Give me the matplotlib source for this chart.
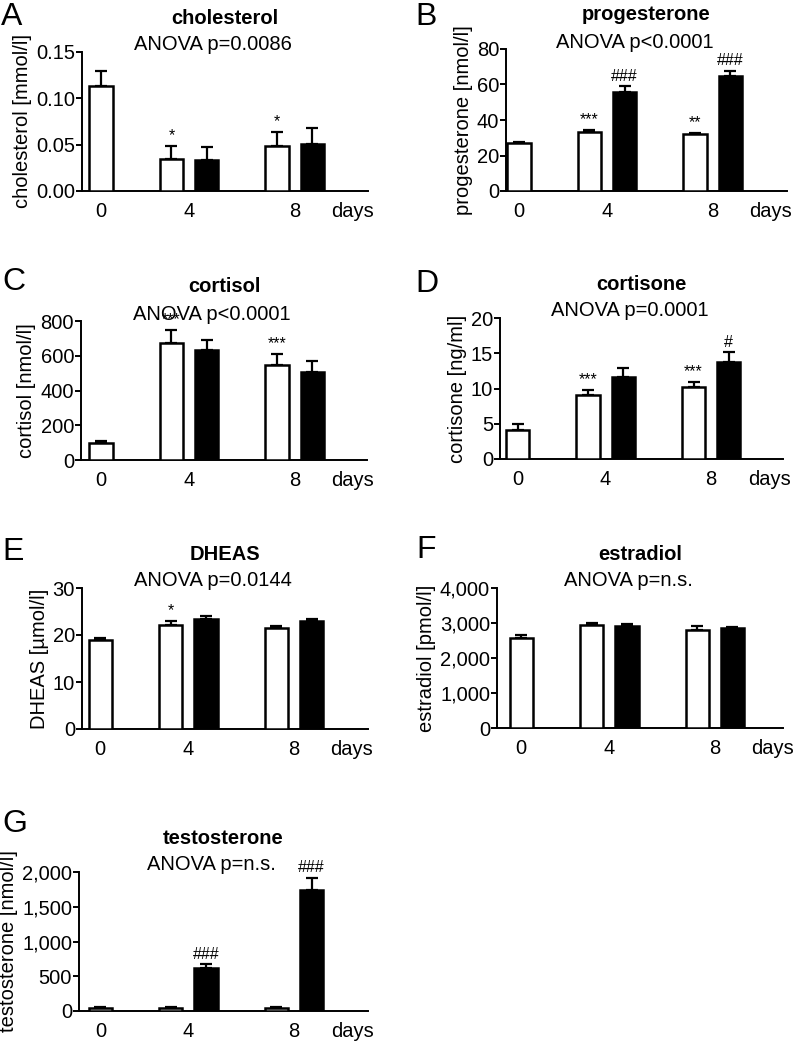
import numpy as np
import matplotlib.pyplot as plt
from matplotlib.ticker import StrMethodFormatter

plt.rcParams['font.family'] = ['Liberation Sans', 'DejaVu Sans']

W, H = 793, 1041

letters = ['A', 'B', 'C', 'D', 'E', 'F', 'G']
titles = ['cholesterol', 'progesterone', 'cortisol', 'cortisone', 'DHEAS',
          'estradiol', 'testosterone']
anova = ['ANOVA p=0.0086', 'ANOVA p<0.0001', 'ANOVA p<0.0001', 'ANOVA p=0.0001',
         'ANOVA p=0.0144', 'ANOVA p=n.s.', 'ANOVA p=n.s.']
ylabels = ['cholesterol [mmol/l]', 'progesterone [nmol/l]', 'cortisol [nmol/l]',
           'cortisone [ng/ml]', 'DHEAS [µmol/l]', 'estradiol [pmol/l]',
           'testosterone [nmol/l]']
xlabels = ['0', '4', '8', 'days']

# open bars: day 0, 4, 8 ; filled bars: day 4, 8
open_mean = [[0.113, 0.034, 0.049],
             [26.8, 33.4, 31.9],
             [100, 675, 549],
             [4.16, 9.03, 10.26],
             [18.9, 22.1, 21.4],
             [2583, 2933, 2791],
             [48, 48, 48]]
open_err = [[0.016, 0.015, 0.015],
            [0.7, 0.8, 0.7],
            [9, 71, 61],
            [0.76, 0.71, 0.66],
            [0.4, 0.9, 0.5],
            [75, 75, 113],
            [9, 5, 5]]
fill_mean = [[0.033, 0.051],
             [55.7, 64.9],
             [632, 507],
             [11.68, 13.76],
             [23.5, 23.0],
             [2914, 2848],
             [622, 1737]]
fill_err = [[0.014, 0.017],
            [3.2, 2.8],
            [61, 61],
            [1.22, 1.37],
            [0.6, 0.5],
            [56, 38],
            [48, 177]]
# significance marks: (open day4, open day8), (filled day4, filled day8)
open_marks = [['*', '*'], ['***', '**'], ['***', '***'], ['***', '***'],
              ['*', ''], ['', ''], ['', '']]
fill_marks = [['', ''], ['###', '###'], ['', ''], ['', '#'],
              ['', ''], ['', ''], ['###', '###']]
yticks = [[0, 0.05, 0.10, 0.15],
          [0, 20, 40, 60, 80],
          [0, 200, 400, 600, 800],
          [0, 5, 10, 15, 20],
          [0, 10, 20, 30],
          [0, 1000, 2000, 3000, 4000],
          [0, 500, 1000, 1500, 2000]]
yfmt = ['{x:.2f}', '{x:.0f}', '{x:.0f}', '{x:.0f}', '{x:.0f}', '{x:,.0f}', '{x:,.0f}']

# layout in pixels: left, top, right, bottom of the axes
rects = [(82, 52, 368, 191), (506, 49, 787, 191),
         (81, 321, 367, 460), (500, 318, 783, 459),
         (82, 588, 368, 729), (497, 588, 783, 728),
         (79, 872, 368, 1011)]
xleft = [-0.54, -0.37, -0.57, -0.5, -0.52, -0.69, -0.61]
letter_pos = [(1, 2), (415, 2), (2, 267), (415, 269), (2, 537), (416, 535), (2, 809)]
unit = 35.2

open_x = [0, 2, 5]
fill_x = [3, 6]
tick_x = [0, 2.5, 5.5, 7.15]
bw = 0.66
fs = 14.5

fig = plt.figure(figsize=(W / 100, H / 100), dpi=100)

for i in range(7):
    l, t, r, b = rects[i]
    ax = fig.add_axes([l / W, 1 - b / H, (r - l) / W, (b - t) / H])
    ax.bar(open_x, open_mean[i], width=bw, color='white', edgecolor='black',
           linewidth=1.8, zorder=3)
    ax.bar(fill_x, fill_mean[i], width=bw, color='black', edgecolor='black',
           linewidth=1.8, zorder=3)
    ax.errorbar(open_x, open_mean[i], yerr=[[0] * 3, open_err[i]], fmt='none',
                ecolor='black', elinewidth=1.6, capsize=4, capthick=1.6, zorder=2)
    ax.errorbar(fill_x, fill_mean[i], yerr=[[0] * 2, fill_err[i]], fmt='none',
                ecolor='black', elinewidth=1.6, capsize=4, capthick=1.6, zorder=2)
    for k in range(2):
        for xs, m, e, marks in [(open_x[k + 1], open_mean[i][k + 1], open_err[i][k + 1], open_marks[i]),
                                (fill_x[k], fill_mean[i][k], fill_err[i][k], fill_marks[i])]:
            if marks[k]:
                ax.annotate(marks[k], (xs, m + e), xytext=(0, 2), textcoords='offset points',
                            ha='center', va='bottom', fontsize=11.5, clip_on=False)

    ax.set_xlim(xleft[i], xleft[i] + (r - l) / unit)
    ax.set_ylim(yticks[i][0], yticks[i][-1])
    ax.set_yticks(yticks[i])
    ax.yaxis.set_major_formatter(StrMethodFormatter(yfmt[i]))
    ax.set_xticks(tick_x)
    ax.set_xticklabels(xlabels)
    ax.tick_params(axis='x', length=0, pad=8, labelsize=fs)
    ax.tick_params(axis='y', length=4, width=1.4, pad=1, labelsize=fs)
    for s in ['top', 'right']:
        ax.spines[s].set_visible(False)
    for s in ['left', 'bottom']:
        ax.spines[s].set_linewidth(1.4)
    ax.set_ylabel(ylabels[i], fontsize=fs, labelpad=3)

    cx = (l + r) / 2
    fig.text(cx / W, 1 - (t - 34) / H, titles[i], ha='center', va='center',
             fontsize=fs, fontweight='bold')
    fig.text((cx - 12) / W, 1 - (t - 7) / H, anova[i], ha='center', va='center',
             fontsize=fs)
    lx, ly = letter_pos[i]
    fig.text(lx / W, 1 - ly / H, letters[i], ha='left', va='top', fontsize=23)

fig.savefig('out.png', dpi=100)
